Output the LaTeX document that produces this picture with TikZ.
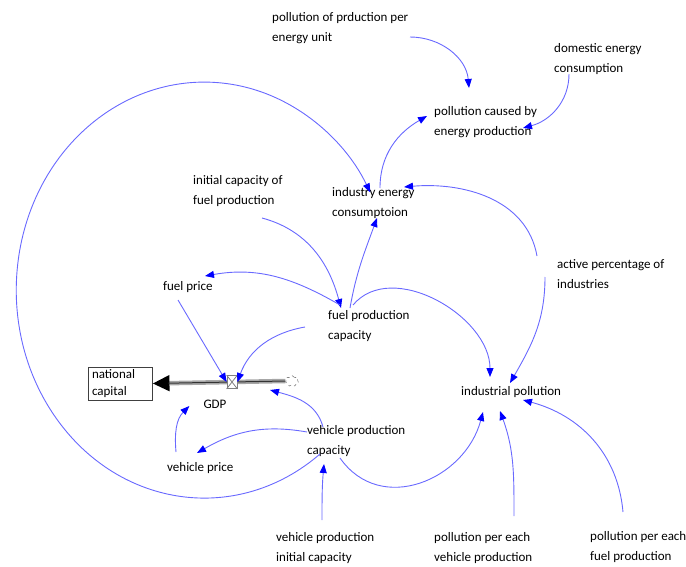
\documentclass[tikz,border=0pt]{standalone}
\usepackage{fontspec}
\setmainfont{Carlito}
\usetikzlibrary{arrows.meta,shapes.symbols}
\definecolor{lienbleu}{RGB}{105,105,255}
\begin{document}
\begin{tikzpicture}[x=1pt,y=1pt,
	var/.style={anchor=west,inner sep=0pt,align=left,font=\fontsize{13}{20}\selectfont},
	link/.style={draw=lienbleu,line width=0.9pt,-{Triangle[length=9pt,width=7pt,blue]}},
	stock/.style={draw=black!75,line width=0.9pt,text width=56pt,inner xsep=4pt,inner ysep=0pt,minimum height=33pt,align=left,font=\fontsize{13}{17}\selectfont},
	valvebox/.style={draw=gray,fill=white,line width=0.8pt,minimum width=10pt,minimum height=13pt,inner sep=0pt},
	nuage/.style={cloud,cloud puffs=7,draw=gray,dashed,line width=0.6pt,minimum width=13pt,minimum height=11pt,inner sep=0pt}]
	\useasboundingbox (0,0) rectangle (686,-567); % cadre de l'image
	% les variables
	\node[var] (peu) at (272,-28) {pollution of prduction per\\energy unit};
	\node[var] (dec) at (554,-59) {domestic energy\\consumption};
	\node[var] (pce) at (434,-122) {pollution caused by\\energy production};
	\node[var] (icf) at (193,-191) {initial capacity of\\fuel production};
	\node[var] (iec) at (332,-203) {industry energy\\consumptoion};
	\node[var] (api) at (557,-274) {active percentage of\\industries};
	\node[var] (fp) at (163,-287) {fuel price};
	\node[var] (fpc) at (328,-326) {fuel production\\capacity};
	\node[var] (ip) at (461,-392) {industrial pollution};
	\node[var] (vpc) at (307,-441) {vehicle production\\capacity};
	\node[var] (vp) at (167,-468) {vehicle price};
	\node[var] (vpi) at (276,-548) {vehicle production\\initial capacity};
	\node[var] (ppv) at (434,-548) {pollution per each\\vehicle production};
	\node[var] (ppf) at (590,-547) {pollution per each\\fuel production};
	% le stock et son flux
	\node[stock] (nc) at (120,-383.5) {national\\capital};
	\node[nuage] (src) at (292,-381) {};
	\draw[gray!70,line width=4.5pt,-{Triangle[black,length=17pt,width=15pt]}] (src.west) -- (nc.east);
	\draw[black!80,line width=1pt,shorten >=16pt] (src.west) -- (nc.east);
	\node[valvebox] (valve) at (232,-382) {};
	\draw[gray,line width=0.8pt] (valve.north west) -- (valve.south east) (valve.north east) -- (valve.south west);
	\node[var,anchor=center] (gdp) at (215,-404) {GDP};
	% les liens
	\draw[link] ([shift={(138,-9)}]peu.west) to[out=0,in=95] ([shift={(35,34)}]pce.west);
	\draw[link] ([shift={(15,-15)}]dec.west) to[out=-90,in=15] ([shift={(89,-6)}]pce.west);
	\draw[link] ([shift={(48,15)}]iec.west) to[out=90,in=210] ([shift={(-7,6)}]pce.west);
	\draw[link] ([shift={(13,-13)}]vpc.west) arc[start angle=-52,end angle=-332,x radius=188pt,y radius=208pt]; % la grande boucle
	\draw[link] ([shift={(22,18)}]fpc.west) to[out=80,in=-110] ([shift={(45,-15)}]iec.west);
	\draw[link] ([shift={(-20,18)}]api.west) to[out=100,in=5] ([shift={(72,16)}]iec.west);
	\draw[link] ([shift={(-12,-3)}]api.west) to[out=-90,in=60] ([shift={(49,9)}]ip.west);
	\draw[link] ([shift={(25,21)}]fpc.west) to[out=50,in=90] ([shift={(29,15)}]ip.west);
	\draw[link] ([shift={(69,-27)}]icf.west) to[out=-15,in=105] ([shift={(13,18)}]fpc.west);
	\draw[link] ([shift={(12,21)}]fpc.west) to[out=150,in=10] ([shift={(42,11)}]fp.west);
	\draw[link] ([shift={(15,-13)}]fp.west) -- (valve.west);
	\draw[link] ([shift={(-23,-1)}]fpc.west) to[out=190,in=70] (valve.east);
	\draw[link] ([shift={(16,14)}]vpc.west) to[out=105,in=-15] ([shift={(38,-8)}]valve.center);
	\draw[link] ([shift={(0,9)}]vpc.west) to[out=170,in=30] ([shift={(30,15)}]vp.west);
	\draw[link] ([shift={(9,16)}]vp.west) to[out=95,in=225] ([shift={(-14,-2)}]gdp.west);
	\draw[link] ([shift={(33,-17)}]vpc.west) to[out=-55,in=-105,looseness=1.2] ([shift={(22,-20)}]ip.west);
	\draw[link] ([shift={(46,28)}]vpi.west) to[out=90,in=-95] ([shift={(17,-23)}]vpc.west);
	\draw[link] ([shift={(80,32)}]ppv.west) to[out=90,in=-70] ([shift={(39,-19)}]ip.west);
	\draw[link] ([shift={(33,35)}]ppf.west) to[out=95,in=-15] ([shift={(62,-8)}]ip.west);
\end{tikzpicture}
\end{document}
